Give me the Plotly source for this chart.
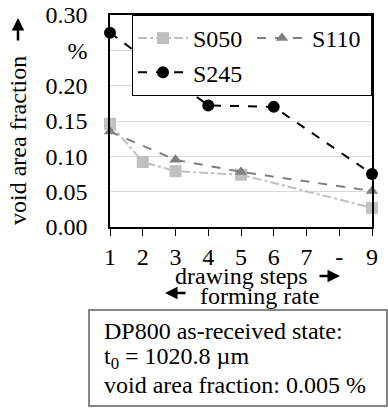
import plotly.graph_objects as go

# Data
x_ticks = [1, 2, 3, 4, 5, 6, 7, 8, 9]
x_ticklabels = ["1", "2", "3", "4", "5", "6", "7", "-", "9"]
y_ticks = [0.0, 0.05, 0.10, 0.15, 0.20, 0.25, 0.30]
y_ticklabels = ["0.00", "0.05", "0.10", "0.15", "0.20", "%", "0.30"]

s050_x = [1, 2, 3, 5, 9]
s050_y = [0.146, 0.092, 0.079, 0.074, 0.027]
s110_x = [1, 3, 5, 9]
s110_y = [0.135, 0.095, 0.078, 0.051]
s245_x = [1, 4, 6, 9]
s245_y = [0.275, 0.172, 0.170, 0.075]

FONT = "Liberation Serif"
FS = 24

W, H = 388, 409
L, R, T, B = 110, 16, 15, 182
pw, ph = W - L - R, H - T - B


def px(xr):
    """pixel x -> paper"""
    return (xr - L) / pw


def py(yr):
    """pixel y -> paper"""
    return (H - B - yr) / ph


fig = go.Figure()
fig.add_trace(go.Scatter(
    x=s050_x, y=s050_y, name="S050", mode="lines+markers",
    line=dict(color="#c0c0c0", width=2, dash="dashdot"),
    marker=dict(symbol="square", size=12, color="#c0c0c0"),
    cliponaxis=False))
fig.add_trace(go.Scatter(
    x=s110_x, y=s110_y, name="S110", mode="lines+markers",
    line=dict(color="#808080", width=2, dash="dash"),
    marker=dict(symbol="triangle-up", size=11, color="#808080"),
    cliponaxis=False))
fig.add_trace(go.Scatter(
    x=s245_x, y=s245_y, name="S245", mode="lines+markers",
    line=dict(color="#000000", width=2, dash="dash"),
    marker=dict(symbol="circle", size=12, color="#000000"),
    cliponaxis=False))

fig.update_layout(
    width=W, height=H,
    margin=dict(l=L, r=R, t=T, b=B, autoexpand=False),
    paper_bgcolor="white", plot_bgcolor="white",
    font=dict(family=FONT, size=FS, color="black"),
    showlegend=True,
    legend=dict(
        orientation="h", x=1, xanchor="right", y=1, yanchor="top",
        bgcolor="white", bordercolor="black", borderwidth=1,
        itemwidth=50, entrywidth=54, entrywidthmode="pixels",
        font=dict(family=FONT, size=FS),
    ),
    xaxis=dict(
        range=[1, 9], tickvals=x_ticks, ticktext=x_ticklabels,
        showgrid=False, zeroline=False,
        showline=True, linecolor="black", linewidth=1.5, mirror=True,
        ticks="outside", ticklen=7, tickcolor="black", tickwidth=1,
        tickfont=dict(family=FONT, size=FS),
        ticklabeloverflow="allow",
    ),
    yaxis=dict(
        range=[0, 0.30], tickvals=y_ticks, ticktext=y_ticklabels,
        showgrid=True, gridcolor="#d9d9d9", gridwidth=1,
        zeroline=False,
        showline=True, linecolor="black", linewidth=1.5, mirror=True,
        ticks="", ticklabelstandoff=16,
        tickfont=dict(family=FONT, size=FS),
        ticklabeloverflow="allow",
    ),
)


def arrow(x_head, y_head, dx, dy):
    fig.add_annotation(
        xref="paper", yref="paper", x=px(x_head), y=py(y_head),
        ax=dx, ay=dy, text="", showarrow=True,
        arrowhead=2, arrowsize=1, arrowwidth=2.5, arrowcolor="black")


# axis titles
fig.add_annotation(
    xref="paper", yref="paper", x=px(18), y=py(141),
    text="void area fraction", textangle=-90, showarrow=False,
    font=dict(family=FONT, size=FS), xanchor="center", yanchor="middle")
arrow(18, 18, 0, 24)

fig.add_annotation(
    xref="paper", yref="paper", x=px(241), y=py(276),
    text="drawing steps", showarrow=False,
    font=dict(family=FONT, size=FS), xanchor="center", yanchor="middle")
arrow(340, 276, -22, 0)

fig.add_annotation(
    xref="paper", yref="paper", x=px(259), y=py(296),
    text="forming rate", showarrow=False,
    font=dict(family=FONT, size=FS), xanchor="center", yanchor="middle")
arrow(165, 293, 22, 0)

# info box
fig.add_shape(
    type="rect", xref="paper", yref="paper",
    x0=px(89), x1=px(387), y0=py(406), y1=py(310),
    line=dict(color="#606060", width=1.5), fillcolor="white")
info_lines = ["DP800 as-received state:",
              "t<sub>0</sub> = 1020.8 \u00b5m",
              "void area fraction: 0.005 %"]
for i, t in enumerate(info_lines):
    fig.add_annotation(
        xref="paper", yref="paper", x=px(102), y=py(331 + 27 * i),
        text=t, showarrow=False, xanchor="left", yanchor="middle",
        font=dict(family=FONT, size=FS))

fig.write_html("out.html",
               config={"displayModeBar": False},
               post_script="document.body.style.margin='0px';")
